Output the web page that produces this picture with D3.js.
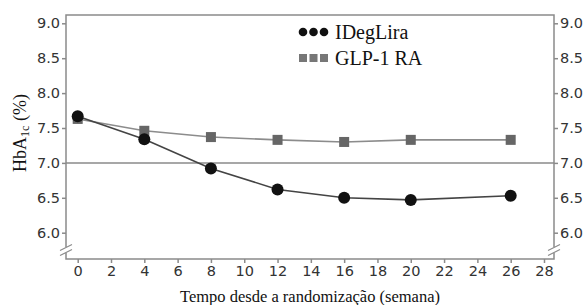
<!DOCTYPE html>
<meta charset="utf-8">
<style>
    body { margin: 0; background: #fff; }
    .axis text { font-family: "DejaVu Sans", sans-serif; font-size: 14.5px; fill: #333; }
    .axis path, .axis line { stroke: #8a8a8a; stroke-width: 1.5px; }
    .serif { font-family: "Liberation Serif", "Times New Roman", serif; fill: #111; }
</style>
<svg width="587" height="305"></svg>
<script src="https://d3js.org/d3.v7.min.js"></script>
<script>

    var weeks = [0, 4, 8, 12, 16, 20, 26];
    var idegLira = [7.67, 7.34, 6.92, 6.62, 6.50, 6.47, 6.53];
    var glp1 = [7.63, 7.46, 7.37, 7.33, 7.30, 7.33, 7.33];
    var xTicks = [0, 2, 4, 6, 8, 10, 12, 14, 16, 18, 20, 22, 24, 26, 28];
    var yTicks = [6.0, 6.5, 7.0, 7.5, 8.0, 8.5, 9.0];

    var svg = d3.select("svg");
    var pLeft = 66, pRight = 554, pTop = 15, pBottom = 259;

    var x = d3.scaleLinear().domain([0, 28]).range([77.7, 544]);
    var y = d3.scaleLinear().domain([6.0, 9.0]).range([232.7, 23.3]);

    // frame
    svg.append("rect")
            .attr("x", pLeft).attr("y", pTop)
            .attr("width", pRight - pLeft).attr("height", pBottom - pTop)
            .attr("fill", "none").attr("stroke", "#8a8a8a").attr("stroke-width", 1.5);

    // 7.0 reference line
    svg.append("line")
            .attr("x1", pLeft).attr("x2", pRight)
            .attr("y1", y(7.0)).attr("y2", y(7.0))
            .attr("stroke", "#8a8a8a").attr("stroke-width", 1.5);

    svg.append("g").attr("class", "axis")
            .attr("transform", "translate(" + pLeft + ",0)")
            .call(d3.axisLeft(y).tickValues(yTicks).tickFormat(d3.format(".1f")).tickSize(4).tickPadding(2));
    svg.append("g").attr("class", "axis")
            .attr("transform", "translate(" + pRight + ",0)")
            .call(d3.axisRight(y).tickValues(yTicks).tickFormat(d3.format(".1f")).tickSize(4).tickPadding(2));
    svg.append("g").attr("class", "axis")
            .attr("transform", "translate(0," + pBottom + ")")
            .call(d3.axisBottom(x).tickValues(xTicks).tickSize(4).tickPadding(3));
    svg.selectAll(".axis .domain").remove();

    // axis breaks
    [pLeft, pRight].forEach(function(bx) {
        var by = 250;
        svg.append("rect").attr("x", bx - 2).attr("y", by - 3).attr("width", 4).attr("height", 6).attr("fill", "#fff");
        [-2.5, 2.5].forEach(function(o) {
            svg.append("line")
                    .attr("x1", bx - 6).attr("y1", by + o + 3)
                    .attr("x2", bx + 6).attr("y2", by + o - 3)
                    .attr("stroke", "#8a8a8a").attr("stroke-width", 1.2);
        });
    });

    var line = d3.line()
            .x(function(d) { return x(d[0]); })
            .y(function(d) { return y(d[1]); });

    var glpData = weeks.map(function(w, i) { return [w, glp1[i]]; });
    var degData = weeks.map(function(w, i) { return [w, idegLira[i]]; });

    svg.append("path").datum(glpData).attr("d", line)
            .attr("fill", "none").attr("stroke", "#8c8c8c").attr("stroke-width", 1.6);
    svg.selectAll(".sq").data(glpData).enter().append("rect")
            .attr("x", function(d) { return x(d[0]) - 5; })
            .attr("y", function(d) { return y(d[1]) - 5; })
            .attr("width", 10).attr("height", 10)
            .attr("fill", "#666");

    svg.append("path").datum(degData).attr("d", line)
            .attr("fill", "none").attr("stroke", "#444").attr("stroke-width", 1.6);
    svg.selectAll(".dot").data(degData).enter().append("circle")
            .attr("cx", function(d) { return x(d[0]); })
            .attr("cy", function(d) { return y(d[1]); })
            .attr("r", 6)
            .attr("fill", "#111");

    // legend
    var lg = svg.append("g");
    [0, 1, 2].forEach(function(i) {
        lg.append("circle").attr("cx", 303 + i * 10.5).attr("cy", 32).attr("r", 4.3).attr("fill", "#111");
        lg.append("rect").attr("x", 299 + i * 10.5).attr("y", 54).attr("width", 8).attr("height", 8).attr("fill", "#777");
    });
    lg.append("text").attr("class", "serif").attr("x", 335).attr("y", 39).attr("font-size", 20).text("IDegLira");
    lg.append("text").attr("class", "serif").attr("x", 335).attr("y", 65).attr("font-size", 20).text("GLP-1 RA");

    // axis titles
    svg.append("text").attr("class", "serif")
            .attr("x", 310).attr("y", 302).attr("text-anchor", "middle").attr("font-size", 16.5)
            .text("Tempo desde a randomização (semana)");

    var yt = svg.append("text").attr("class", "serif")
            .attr("transform", "translate(26,133) rotate(-90)")
            .attr("text-anchor", "middle").attr("font-size", 18);
    yt.append("tspan").text("HbA");
    yt.append("tspan").attr("font-size", 12).attr("dy", 3).text("1c");
    yt.append("tspan").attr("dy", -3).text(" (%)");

</script>
